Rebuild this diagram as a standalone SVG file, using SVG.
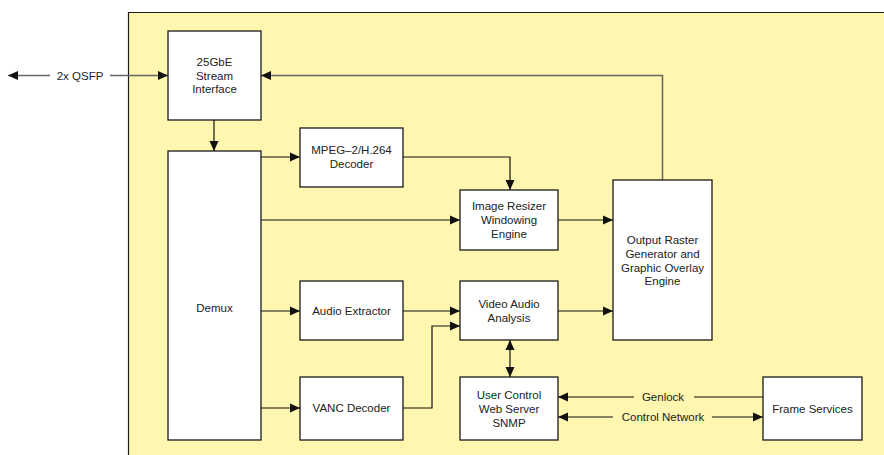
<svg xmlns="http://www.w3.org/2000/svg" width="884" height="455" viewBox="0 0 884 455">
<defs>
<style>
.box{fill:#fff;stroke:#1a1a1a;stroke-width:1.3}
.t{font-family:"Liberation Sans",Arial,sans-serif;font-size:11.5px;fill:#222;text-anchor:middle}
.c{fill:none;stroke:#111;stroke-width:1.2}
.g{fill:none;stroke:#666;stroke-width:1.5}
</style>
<marker id="a" markerUnits="userSpaceOnUse" markerWidth="11" markerHeight="10" refX="10" refY="5" orient="auto-start-reverse" viewBox="0 0 11 10">
<path d="M0,0.5 L10,5 L0,9.5 z" fill="#111"/>
</marker>
</defs>
<rect x="0" y="0" width="884" height="455" fill="#fff"/>
<path d="M128.5,455 V12.5 H884 V455 Z" fill="#FFF6B0"/>
<path d="M128.5,455 V12.5 H884" fill="none" stroke="#1a1a1a" stroke-width="1.2"/>

<g id="connectors">
<line class="g" x1="8" y1="75.5" x2="50" y2="75.5" marker-start="url(#a)"/>
<line class="g" x1="110" y1="75.5" x2="168" y2="75.5" marker-end="url(#a)"/>
<text class="t" x="80" y="79.5">2x QSFP</text>
<path class="g" d="M662.5,180 V75.5 H261" marker-end="url(#a)"/>
<line class="c" x1="214" y1="120" x2="214" y2="151" marker-end="url(#a)"/>
<line class="c" x1="261" y1="157" x2="300" y2="157" marker-end="url(#a)"/>
<path class="c" d="M403,157 H510 V190" marker-end="url(#a)"/>
<line class="c" x1="261" y1="220" x2="460" y2="220" marker-end="url(#a)"/>
<line class="c" x1="558" y1="220" x2="613" y2="220" marker-end="url(#a)"/>
<line class="c" x1="261" y1="311" x2="300" y2="311" marker-end="url(#a)"/>
<line class="c" x1="403" y1="311" x2="460" y2="311" marker-end="url(#a)"/>
<line class="c" x1="558" y1="311" x2="613" y2="311" marker-end="url(#a)"/>
<line class="c" x1="261" y1="408" x2="300" y2="408" marker-end="url(#a)"/>
<path class="c" d="M403,408 H432 V326 H460" marker-end="url(#a)"/>
<line class="c" x1="510" y1="340" x2="510" y2="377" marker-start="url(#a)" marker-end="url(#a)"/>
<line class="c" x1="763" y1="397" x2="694" y2="397"/>
<line class="c" x1="634" y1="397" x2="558" y2="397" marker-end="url(#a)"/>
<text class="t" x="663" y="401">Genlock</text>
<line class="c" x1="613" y1="417" x2="558" y2="417" marker-end="url(#a)"/>
<line class="c" x1="712" y1="417" x2="763" y2="417" marker-end="url(#a)"/>
<text class="t" x="663" y="421">Control Network</text>
</g>

<g id="stream">
<rect class="box" x="168" y="31" width="93" height="89"/>
<text class="t" x="214.5" y="66">25GbE</text>
<text class="t" x="214.5" y="79.5">Stream</text>
<text class="t" x="214.5" y="93">Interface</text>
</g>
<g id="demux">
<rect class="box" x="168" y="151" width="93" height="289"/>
<text class="t" x="214.5" y="312">Demux</text>
</g>
<g id="mpeg">
<rect class="box" x="300" y="128" width="103" height="59"/>
<text class="t" x="351.5" y="154">MPEG–2/H.264</text>
<text class="t" x="351.5" y="167.5">Decoder</text>
</g>
<g id="resizer">
<rect class="box" x="460" y="190" width="98" height="60"/>
<text class="t" x="509" y="210">Image Resizer</text>
<text class="t" x="509" y="224">Windowing</text>
<text class="t" x="509" y="238">Engine</text>
</g>
<g id="output">
<rect class="box" x="613" y="180" width="99" height="160"/>
<text class="t" x="662.5" y="244">Output Raster</text>
<text class="t" x="662.5" y="258">Generator and</text>
<text class="t" x="662.5" y="271.5">Graphic Overlay</text>
<text class="t" x="662.5" y="285">Engine</text>
</g>
<g id="audio">
<rect class="box" x="300" y="281" width="103" height="59"/>
<text class="t" x="351.5" y="314.5">Audio Extractor</text>
</g>
<g id="vaa">
<rect class="box" x="460" y="281" width="98" height="59"/>
<text class="t" x="509" y="308">Video Audio</text>
<text class="t" x="509" y="322">Analysis</text>
</g>
<g id="vanc">
<rect class="box" x="300" y="377" width="103" height="63"/>
<text class="t" x="351.5" y="412">VANC Decoder</text>
</g>
<g id="usercontrol">
<rect class="box" x="460" y="377" width="98" height="63"/>
<text class="t" x="509" y="399">User Control</text>
<text class="t" x="509" y="413">Web Server</text>
<text class="t" x="509" y="427">SNMP</text>
</g>
<g id="frame">
<rect class="box" x="763" y="377" width="99" height="63"/>
<text class="t" x="812.5" y="413">Frame Services</text>
</g>
</svg>
